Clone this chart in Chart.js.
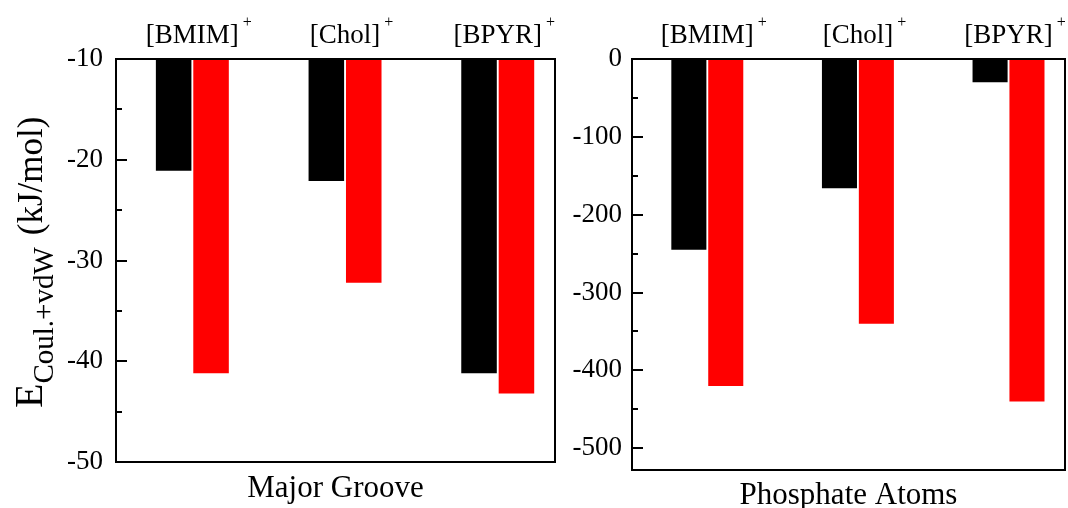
<!DOCTYPE html>
<html>
<head>
<meta charset="utf-8">
<script src="https://cdn.jsdelivr.net/npm/chart.js@4.4.0/dist/chart.umd.min.js"></script>
<style>
  html, body { margin: 0; padding: 0; background: #fff; }
  #wrap { position: relative; width: 1068px; height: 508px; overflow: hidden; }
  .panel { position: absolute; top: 0; height: 508px; }
</style>
</head>
<body>
<div id="wrap">
  <div class="panel" style="left:0;width:560px"><canvas id="groove"></canvas></div>
  <div class="panel" style="left:560px;width:508px"><canvas id="phos"></canvas></div>
</div>
<script>
// données
const categories = ['[BMIM]', '[Chol]', '[BPYR]'];
const grooveBlack = [-21.1, -22.1, -41.2];
const grooveRed = [-41.2, -32.2, -43.2];
const phosBlack = [-245, -166, -30];
const phosRed = [-420, -340, -440];

const grooveTicks = [-10, -20, -30, -40, -50];
const grooveMinor = [-15, -25, -35, -45];
const phosTicks = [0, -100, -200, -300, -400, -500];
const phosMinor = [-50, -150, -250, -350, -450];

const FONT = "'Liberation Serif', 'Times New Roman', serif";

function toPoints(values) {
    return values.map((v, i) => ({ x: i + 1, y: v }));
}

// cadre, graduations internes, noms des cations et titre de l'axe x
const panelDecor = {
    id: 'panelDecor',
    afterDatasetsDraw(chart, args, opts) {
        const { ctx, chartArea: a } = chart;
        const xs = chart.scales.x, ys = chart.scales.y;
        ctx.save();
        ctx.strokeStyle = '#000';
        ctx.lineWidth = 2;
        ctx.strokeRect(a.left, a.top, a.right - a.left, a.bottom - a.top);

        ctx.beginPath();
        opts.major.forEach(v => {
            const y = Math.round(ys.getPixelForValue(v));
            ctx.moveTo(a.left, y); ctx.lineTo(a.left + 11, y);
        });
        opts.minor.forEach(v => {
            const y = Math.round(ys.getPixelForValue(v));
            ctx.moveTo(a.left, y); ctx.lineTo(a.left + 6, y);
        });
        ctx.stroke();

        ctx.fillStyle = '#000';
        ctx.textBaseline = 'alphabetic';
        categories.forEach((name, i) => {
            const x = xs.getPixelForValue(i + 1);
            ctx.font = '27px ' + FONT;
            ctx.textAlign = 'center';
            ctx.fillText(name, x, 43);
            const w = ctx.measureText(name).width;
            ctx.font = '16px ' + FONT;
            ctx.textAlign = 'left';
            ctx.fillText('+', x + w / 2 + 4, 27);
        });

        ctx.font = '31px ' + FONT;
        ctx.textAlign = 'center';
        ctx.fillText(opts.title, (a.left + a.right) / 2, opts.titleY);

        if (opts.yTitle) {
            ctx.translate(42, 408);
            ctx.rotate(-Math.PI / 2);
            ctx.textAlign = 'left';
            ctx.font = '40px ' + FONT;
            ctx.fillText('E', 0, 0);
            let x = ctx.measureText('E').width;
            ctx.font = '29px ' + FONT;
            ctx.fillText('Coul.+vdW', x, 11);
            x += ctx.measureText('Coul.+vdW').width + 12;
            ctx.font = '35px ' + FONT;
            ctx.fillText('(kJ/mol)', x, 0);
        }
        ctx.restore();
    }
};

function makePanel(id, black, red, yMin, yMax, ticks, minor, pad, axisWidth, labelPad, title, titleY, yTitle) {
    return new Chart(document.getElementById(id), {
        type: 'bar',
        data: {
            datasets: [
                { data: toPoints(black), backgroundColor: '#000000', borderWidth: 0 },
                { data: toPoints(red), backgroundColor: '#ff0000', borderWidth: 0 }
            ]
        },
        options: {
            responsive: true,
            maintainAspectRatio: false,
            animation: false,
            layout: { padding: pad },
            categoryPercentage: 0.49,
            barPercentage: 0.95,
            plugins: {
                legend: { display: false },
                tooltip: { enabled: false },
                panelDecor: { major: ticks, minor: minor, title: title, titleY: titleY, yTitle: yTitle }
            },
            scales: {
                x: {
                    type: 'linear',
                    display: false,
                    offset: false,   // sinon le décalage des barres fausse les positions
                    bounds: 'data',
                    grid: { offset: false },
                    min: 0.5,
                    max: 3.375,
                    afterBuildTicks: s => { s.ticks = categories.map((c, i) => ({ value: i + 1 })); }
                },
                y: {
                    min: yMin,
                    max: yMax,
                    afterBuildTicks: s => { s.ticks = ticks.map(v => ({ value: v })); },
                    afterFit: s => { s.width = axisWidth; },
                    grid: { display: false, drawTicks: false },
                    border: { display: false },
                    ticks: {
                        color: '#000',
                        padding: labelPad,
                        font: { family: FONT, size: 27 }
                    }
                }
            }
        },
        plugins: [panelDecor]
    });
}

makePanel('groove', grooveBlack, grooveRed, -50, -10, grooveTicks, grooveMinor,
    { top: 59, bottom: 46, left: 0, right: 5 }, 116, 13, 'Major Groove', 497, true);
makePanel('phos', phosBlack, phosRed, -528, 0, phosTicks, phosMinor,
    { top: 59, bottom: 38, left: 0, right: 3 }, 72, 10, 'Phosphate Atoms', 504, false);
</script>
</body>
</html>
